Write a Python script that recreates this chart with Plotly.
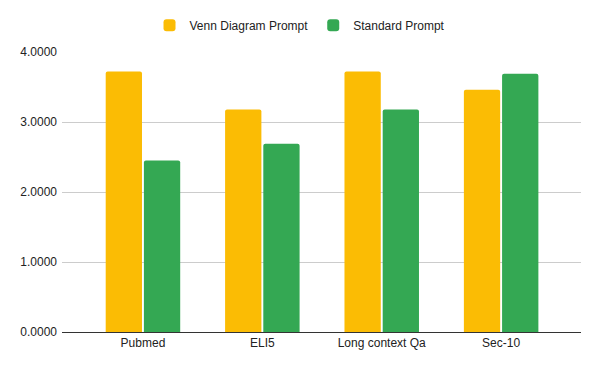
import plotly.graph_objects as go

# Scores
categories = ["Pubmed", "ELI5", "Long context Qa", "Sec-10"]
venn_scores = [3.72, 3.18, 3.72, 3.46]
standard_scores = [2.45, 2.69, 3.18, 3.69]

YELLOW = "#FBBC04"
GREEN = "#34A853"
FONT = "Liberation Sans, Arial, sans-serif"


def build_figure():
    fig = go.Figure()
    fig.add_trace(go.Bar(x=categories, y=venn_scores, name="Venn Diagram Prompt",
                         marker=dict(color=YELLOW, line=dict(width=0))))
    fig.add_trace(go.Bar(x=categories, y=standard_scores, name="Standard Prompt",
                         marker=dict(color=GREEN, line=dict(width=0))))

    fig.update_layout(
        width=600, height=371,
        margin=dict(l=62, r=19, t=51, b=39),
        plot_bgcolor="white", paper_bgcolor="white",
        font=dict(family=FONT, size=12, color="#222"),
        barmode="group", bargap=0.36, bargroupgap=0.05, barcornerradius=2,
        # legend centred on the page, not on the plot area
        legend=dict(orientation="h", x=0.4586, xanchor="center",
                    y=1.092, yanchor="middle",
                    font=dict(size=12, color="#222"), itemwidth=30, traceorder="normal"),
    )
    fig.update_xaxes(range=[-0.678, 3.669], showline=True, linecolor="#333", linewidth=1,
                     showgrid=False, ticks="", tickfont=dict(size=12, color="#222"))
    fig.update_yaxes(range=[0, 4], dtick=1, tickformat=".4f", showgrid=True,
                     gridcolor="#cccccc", gridwidth=1, zeroline=False, ticks="",
                     ticklabelstandoff=4, tickfont=dict(size=12, color="#222"))
    return fig


fig = build_figure()
# drop the browser's default body margin so the figure sits at the page origin
fig.write_html("out.html", config={"displayModeBar": False},
               post_script="document.body.style.margin='0';")
